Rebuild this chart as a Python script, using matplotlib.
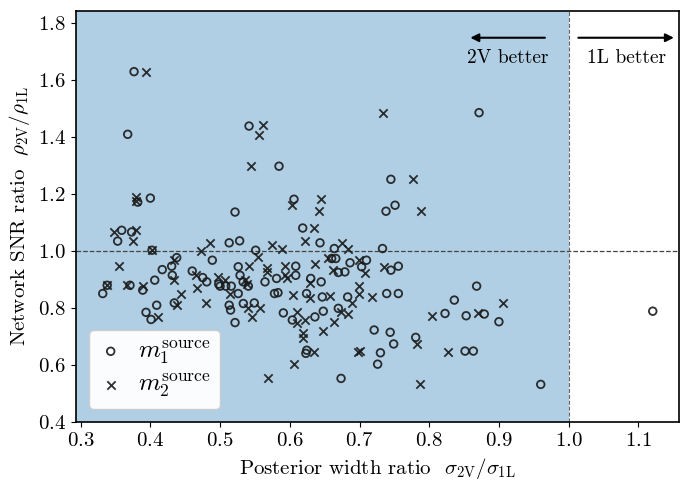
import matplotlib
matplotlib.use("Agg")
import matplotlib.pyplot as plt
import numpy as np

plt.rcParams['font.family'] = 'serif'
plt.rcParams['font.serif'] = ['cmr10', 'DejaVu Serif']
plt.rcParams['mathtext.fontset'] = 'cm'
plt.rcParams['axes.formatter.use_mathtext'] = True

# m1 source (circles): (width ratio, SNR ratio)
m1_x = [0.3765, 0.3674, 0.8715, 0.5415, 0.5845,
        0.3818, 0.3999, 0.5214, 0.606, 0.745, 0.751, 0.738,
        0.3588, 0.373, 0.353, 0.4023, 0.513, 0.528, 0.4888,
        0.6185, 0.6433, 0.551, 0.6638, 0.733,
        0.4377, 0.417, 0.4305, 0.4314, 0.4062, 0.460, 0.475, 0.4808,
        0.660, 0.666, 0.710, 0.6864, 0.526, 0.6085, 0.703, 0.745, 0.7557,
        0.6696, 0.679, 0.581, 0.6085, 0.5644, 0.645, 0.630, 0.5286, 0.533, 0.5405,
        0.338, 0.3707, 0.868,
        0.3316, 0.389, 0.3937, 0.409, 0.4009, 0.4343, 0.513, 0.515, 0.5214,
        0.526, 0.578, 0.583, 0.624, 0.6466, 0.683, 0.739, 0.7557,
        0.5333, 0.549, 0.5907, 0.6036, 0.636, 0.648, 0.6696,
        0.6243, 0.623, 0.6735, 0.721, 0.744, 0.749, 0.730, 0.726,
        0.836, 0.8227, 0.853, 0.879, 0.900, 0.7806, 0.8514, 0.8633, 0.96, 1.1207,
        0.500, 0.508, 0.516, 0.498]
m1_y = [1.631, 1.411, 1.487, 1.44, 1.299,
        1.173, 1.187, 1.138, 1.183, 1.253, 1.162, 1.141,
        1.074, 1.068, 1.036, 1.004, 1.03, 1.037, 0.969,
        1.082, 1.030, 1.004, 1.010, 1.010,
        0.978, 0.936, 0.948, 0.916, 0.899, 0.931, 0.908, 0.893,
        0.975, 0.975, 0.969, 0.960, 0.946, 0.948, 0.946, 0.934, 0.948,
        0.926, 0.928, 0.905, 0.916, 0.893, 0.893, 0.905, 0.916, 0.893, 0.878,
        0.881, 0.881, 0.878,
        0.852, 0.864, 0.786, 0.811, 0.761, 0.819, 0.811, 0.794, 0.750,
        0.852, 0.852, 0.855, 0.852, 0.84, 0.84, 0.852, 0.852,
        0.817, 0.819, 0.784, 0.759, 0.770, 0.790, 0.80,
        0.653, 0.642, 0.554, 0.724, 0.716, 0.675, 0.644, 0.604,
        0.829, 0.782, 0.774, 0.780, 0.753, 0.698, 0.650, 0.650, 0.533, 0.79,
        0.878, 0.878, 0.878, 0.885]

# m2 source (crosses)
m2_x = [0.3937, 0.562, 0.556, 0.734, 0.5443,
        0.380, 0.380, 0.777, 0.7878, 0.6027, 0.6443, 0.6423, 0.6347,
        0.348, 0.3793, 0.3755, 0.4023, 0.4855, 0.4726, 0.6218, 0.575, 0.589, 0.6753, 0.684,
        0.3554, 0.4343, 0.4343, 0.465, 0.4975, 0.507, 0.554, 0.655, 0.699,
        0.5419, 0.593, 0.636, 0.567, 0.567, 0.708, 0.7356, 0.6616, 0.593, 0.5956, 0.629, 0.5357, 0.538, 0.6997,
        0.338, 0.366, 0.389, 0.4664,
        0.444, 0.4105, 0.4386, 0.4793, 0.514,
        0.605, 0.629, 0.657, 0.6993, 0.7175,
        0.546, 0.557, 0.540, 0.61, 0.61, 0.622, 0.6634, 0.648, 0.6735, 0.684, 0.6888,
        0.6185, 0.6185, 0.6347, 0.6065, 0.569, 0.698, 0.700,
        0.9063, 0.8036, 0.8705, 0.782, 0.8265, 0.7868]
m2_y = [1.631, 1.442, 1.41, 1.487, 1.299,
        1.19, 1.176, 1.253, 1.141, 1.162, 1.183, 1.141, 1.082,
        1.068, 1.074, 1.036, 1.004, 1.028, 1.002, 1.037, 1.022, 1.008, 1.03, 1.010,
        0.948, 0.971, 0.899, 0.916, 0.910, 0.899, 0.981, 0.975, 0.971,
        0.948, 0.948, 0.957, 0.940, 0.928, 0.925, 0.946, 0.934, 0.916, 0.905, 0.889, 0.899, 0.887, 0.878,
        0.881, 0.881, 0.878, 0.870,
        0.852, 0.77, 0.811, 0.819, 0.852,
        0.846, 0.838, 0.843, 0.852, 0.84,
        0.77, 0.80, 0.80, 0.788, 0.750, 0.759, 0.753, 0.721, 0.788, 0.78, 0.819,
        0.714, 0.697, 0.647, 0.603, 0.554, 0.647, 0.652,
        0.819, 0.774, 0.784, 0.674, 0.645, 0.533]

x_ticks = [0.3, 0.4, 0.5, 0.6, 0.7, 0.8, 0.9, 1.0, 1.1]
y_ticks = [0.4, 0.6, 0.8, 1.0, 1.2, 1.4, 1.6, 1.8]

fig = plt.figure(figsize=(6.9, 4.9), dpi=100)
ax = fig.add_axes([0.1097, 0.1382, 0.8748, 0.8400])
xmin, xmax = 0.2928, 1.1588
ymin, ymax = 0.4, 1.845

ax.axvspan(xmin, 1.0, color='C0', alpha=0.35, lw=0, zorder=0)
ax.axvline(1.0, color='#666666', ls='--', lw=0.8, zorder=1)
ax.axhline(1.0, color='#444444', ls='--', lw=0.9, zorder=1)

mk_col = '#1a1a1a'
ax.scatter(m1_x, m1_y, s=30, marker='o', facecolors='none', edgecolors=mk_col,
           linewidths=1.3, alpha=0.9, zorder=3, label=r'$m_1^{\rm source}$')
ax.scatter(m2_x, m2_y, s=36, marker='x', color=mk_col,
           linewidths=1.3, alpha=0.9, zorder=3, label=r'$m_2^{\rm source}$')

ax.set_xlim(xmin, xmax)
ax.set_ylim(ymin, ymax)
ax.set_xticks(x_ticks)
ax.set_yticks(y_ticks)
ax.tick_params(labelsize=15)
for sp in ax.spines.values():
    sp.set_linewidth(1.2)

ax.set_xlabel(r'Posterior width ratio  $\sigma_{\rm 2V}/\sigma_{\rm 1L}$', fontsize=15)
ax.set_ylabel(r'Network SNR ratio  $\rho_{\rm 2V}/\rho_{\rm 1L}$', fontsize=15)

ax.annotate('', xy=(0.855, 1.75), xytext=(0.97, 1.75),
            arrowprops=dict(arrowstyle='-|>', color='black', lw=1.5, mutation_scale=12))
ax.annotate('', xy=(1.155, 1.75), xytext=(1.01, 1.75),
            arrowprops=dict(arrowstyle='-|>', color='black', lw=1.5, mutation_scale=12))
ax.text(0.9125, 1.68, '2V better', ha='center', va='center', fontsize=14)
ax.text(1.083, 1.68, '1L better', ha='center', va='center', fontsize=14)

leg = ax.legend(loc='lower left', fontsize=18, frameon=True, borderpad=0.35,
                handlelength=1.0, handletextpad=0.6, labelspacing=0.2,
                borderaxespad=0.55)
leg.get_frame().set_facecolor('white')
leg.get_frame().set_alpha(0.95)

fig.savefig('out.png', dpi=100)
